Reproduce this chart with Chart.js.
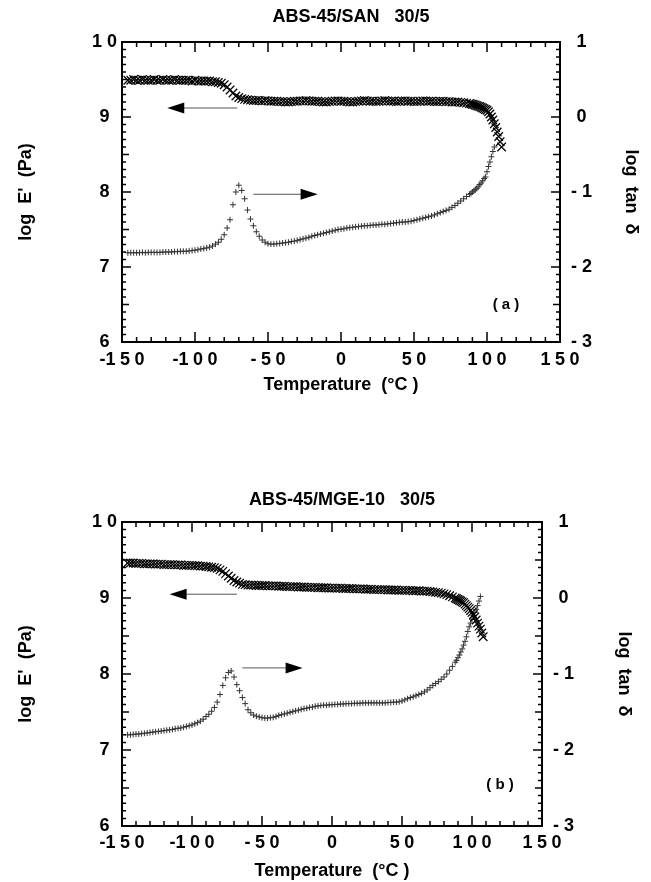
<!DOCTYPE html>
<html>
<head>
<meta charset="utf-8">
<script src="https://cdn.jsdelivr.net/npm/chart.js@4.4.1/dist/chart.umd.min.js"></script>
<style>
  html, body { margin: 0; padding: 0; background: #fff; }
  #wrap { position: relative; width: 651px; height: 882px; }
  canvas { position: absolute; left: 0; }
</style>
</head>
<body>
<div id="wrap">
  <canvas id="chartA" width="651" height="441" style="top:0"></canvas>
  <canvas id="chartB" width="651" height="441" style="top:441px"></canvas>
</div>
<script>
// temperatures (°C) of the measured points
const temps = [
  -146,-144,-142,-140,-138,-136,-134,-132,-130,-128,
  -126,-124,-122,-120,-118,-116,-114,-112,-110,-108,
  -106,-104,-102,-100,-98,-96,-94,-92,-90,-88,
  -86,-84,-82,-80,-78,-76,-74,-72,-70,-68,
  -66,-64,-62,-60,-58,-56,-54,-52,-50,-48,
  -46,-44,-42,-40,-38,-36,-34,-32,-30,-28,
  -26,-24,-22,-20,-18,-16,-14,-12,-10,-8,
  -6,-4,-2,0,2,4,6,8,10,12,
  14,16,18,20,22,24,26,28,30,32,
  34,36,38,40,42,44,46,48,50,52,
  54,56,58,60,62,64,66,68,70,72,
  74,76,78,80,82,84,86,88,
  89,90,91,92,93,94,95,96,97,98,
  99,100,101,102,103,104,105,106,107,108,
  109,110
];

// (a) ABS-45/SAN 30/5 : log E' (Pa), left axis
const logE_a = [
  9.49,9.49,9.50,9.49,9.49,9.50,9.49,9.49,9.49,9.50,
  9.49,9.49,9.50,9.49,9.49,9.49,9.50,9.49,9.49,9.49,
  9.49,9.49,9.48,9.49,9.48,9.48,9.48,9.48,9.48,9.47,
  9.47,9.46,9.45,9.43,9.40,9.36,9.32,9.28,9.26,9.245,
  9.235,9.23,9.225,9.22,9.22,9.22,9.215,9.22,9.215,9.21,
  9.21,9.21,9.205,9.205,9.20,9.20,9.205,9.21,9.21,9.215,
  9.215,9.22,9.215,9.21,9.21,9.21,9.205,9.20,9.20,9.205,
  9.21,9.215,9.215,9.21,9.21,9.205,9.20,9.20,9.205,9.21,
  9.215,9.22,9.215,9.21,9.21,9.205,9.21,9.215,9.22,9.215,
  9.21,9.21,9.205,9.21,9.215,9.215,9.21,9.21,9.205,9.205,
  9.21,9.215,9.215,9.21,9.21,9.205,9.205,9.21,9.21,9.205,
  9.205,9.20,9.20,9.20,9.195,9.19,9.185,9.18,
  9.175,9.17,9.165,9.16,9.15,9.145,9.14,9.13,9.12,9.11,
  9.10,9.09,9.07,9.04,9.00,8.96,8.91,8.86,8.80,8.74,
  8.67,8.60
];

// (a) log tan δ, right axis
const logTan_a = [
  -1.81,-1.81,-1.81,-1.81,-1.81,-1.805,-1.81,-1.805,-1.805,-1.805,
  -1.805,-1.805,-1.80,-1.80,-1.80,-1.80,-1.795,-1.795,-1.79,-1.79,
  -1.79,-1.785,-1.78,-1.775,-1.77,-1.76,-1.755,-1.745,-1.735,-1.72,
  -1.695,-1.67,-1.63,-1.57,-1.48,-1.37,-1.17,-1.00,-0.91,-0.98,
  -1.09,-1.24,-1.36,-1.45,-1.53,-1.59,-1.64,-1.67,-1.69,-1.695,
  -1.695,-1.69,-1.685,-1.68,-1.675,-1.67,-1.66,-1.655,-1.645,-1.635,
  -1.625,-1.615,-1.605,-1.59,-1.58,-1.57,-1.56,-1.55,-1.54,-1.53,
  -1.52,-1.51,-1.50,-1.495,-1.49,-1.48,-1.475,-1.47,-1.465,-1.46,
  -1.455,-1.45,-1.45,-1.445,-1.44,-1.44,-1.435,-1.43,-1.43,-1.425,
  -1.42,-1.415,-1.41,-1.405,-1.40,-1.40,-1.395,-1.39,-1.38,-1.37,
  -1.36,-1.35,-1.34,-1.33,-1.32,-1.305,-1.29,-1.275,-1.26,-1.245,
  -1.23,-1.205,-1.18,-1.15,-1.12,-1.09,-1.06,-1.03,
  -1.02,-1.00,-0.985,-0.97,-0.95,-0.93,-0.90,-0.88,-0.85,-0.82,
  -0.80,-0.73,-0.66,-0.60,-0.53,-0.46,-0.40,null,null,null,
  null,null
];

// (b) ABS-45/MGE-10 30/5 : log E' (Pa)
const logE_b = [
  9.46,9.46,9.46,9.455,9.455,9.455,9.45,9.45,9.45,9.45,
  9.445,9.445,9.445,9.44,9.44,9.44,9.44,9.435,9.435,9.435,
  9.43,9.43,9.43,9.43,9.425,9.425,9.42,9.42,9.415,9.41,
  9.405,9.40,9.39,9.37,9.35,9.32,9.29,9.26,9.23,9.21,
  9.195,9.18,9.175,9.17,9.17,9.17,9.165,9.165,9.165,9.165,
  9.16,9.16,9.16,9.16,9.155,9.155,9.155,9.15,9.15,9.15,
  9.15,9.145,9.145,9.145,9.14,9.14,9.14,9.14,9.135,9.135,
  9.135,9.135,9.13,9.13,9.13,9.13,9.13,9.125,9.125,9.125,
  9.125,9.12,9.12,9.12,9.12,9.115,9.115,9.115,9.11,9.11,
  9.11,9.11,9.11,9.105,9.105,9.105,9.105,9.10,9.10,9.10,
  9.10,9.10,9.095,9.095,9.095,9.09,9.09,9.09,9.085,9.08,
  9.075,9.07,9.065,9.055,9.045,9.03,9.015,9.0,
  8.99,8.98,8.97,8.96,8.95,8.94,8.92,8.90,8.88,8.86,
  8.835,8.81,8.78,8.75,8.71,8.67,8.63,8.59,8.54,8.49,
  null,null
];

// (b) log tan δ
const logTan_b = [
  -1.80,-1.80,-1.795,-1.79,-1.79,-1.785,-1.78,-1.775,-1.77,-1.765,
  -1.76,-1.755,-1.75,-1.745,-1.74,-1.735,-1.73,-1.72,-1.715,-1.71,
  -1.70,-1.69,-1.68,-1.67,-1.655,-1.64,-1.62,-1.595,-1.56,-1.53,
  -1.49,-1.44,-1.37,-1.27,-1.15,-1.05,-0.98,-0.96,-1.04,-1.14,
  -1.22,-1.31,-1.39,-1.47,-1.51,-1.54,-1.555,-1.565,-1.575,-1.58,
  -1.58,-1.575,-1.57,-1.56,-1.545,-1.535,-1.525,-1.515,-1.505,-1.495,
  -1.485,-1.475,-1.465,-1.455,-1.45,-1.44,-1.435,-1.425,-1.42,-1.415,
  -1.41,-1.41,-1.405,-1.405,-1.40,-1.40,-1.395,-1.395,-1.39,-1.39,
  -1.39,-1.385,-1.385,-1.385,-1.38,-1.38,-1.38,-1.38,-1.38,-1.38,
  -1.38,-1.38,-1.38,-1.375,-1.375,-1.37,-1.37,-1.365,-1.355,-1.34,
  -1.325,-1.31,-1.30,-1.285,-1.27,-1.255,-1.235,-1.21,-1.18,-1.15,
  -1.125,-1.10,-1.07,-1.04,-1.00,-0.95,-0.90,-0.845,
  -0.82,-0.785,-0.75,-0.71,-0.67,-0.62,-0.57,-0.51,-0.44,-0.38,
  -0.33,-0.28,-0.23,-0.19,-0.15,-0.10,-0.04,0.02,null,null,
  null,null
];

// tick labels (the figure spaces its digits)
const xTickText = ['-1\u20055\u20050', '-1\u20050\u20050', '-\u20055\u20050', '0', '5\u20050', '1\u20050\u20050', '1\u20055\u20050'];
const leftTickText = ['6', '7', '8', '9', '1 0'];
const rightTickText = ['- 3', '- 2', '- 1', '0', '1'];

// arrows: [fromT, toT, log E' level]
const arrowsA = [[-71, -119, 9.12], [-60, -16, 7.97]];
const arrowsB = [[-68, -116, 9.05], [-64, -21, 8.08]];

const FONT = "'Liberation Sans', Arial, sans-serif";

function points(xs, ys) {
  return xs.map((t, i) => ({ x: t, y: ys[i] })).filter(p => p.y !== null);
}

// frame, inward ticks, arrows, titles
const decor = {
  id: 'decor',
  afterDatasetsDraw(chart, args, o) {
    const { ctx, chartArea: a, scales } = chart;
    const x = scales.x, y = scales.y, y2 = scales.y2;
    ctx.save();
    ctx.strokeStyle = '#000';
    ctx.lineWidth = 1.5;
    ctx.beginPath();
    for (let i = -15; i <= 15; i++) {
      const px = x.getPixelForValue(i * 10);
      const len = i % 5 === 0 ? 10 : 5;
      ctx.moveTo(px, a.bottom); ctx.lineTo(px, a.bottom - len);
      ctx.moveTo(px, a.top); ctx.lineTo(px, a.top + len);
    }
    for (let i = 0; i <= 40; i++) {
      const len = i % 10 === 0 ? 9 : (i % 5 === 0 ? 7 : 4);
      const py = y.getPixelForValue(6 + i / 10);
      ctx.moveTo(a.left, py); ctx.lineTo(a.left + len, py);
      const py2 = y2.getPixelForValue(-3 + i / 10);
      ctx.moveTo(a.right, py2); ctx.lineTo(a.right - len, py2);
    }
    ctx.stroke();
    ctx.lineWidth = 2;
    ctx.strokeRect(a.left, a.top, a.right - a.left, a.bottom - a.top);

    // arrows
    o.arrows.forEach(([t0, t1, v]) => {
      const x0 = x.getPixelForValue(t0), x1 = x.getPixelForValue(t1);
      const py = y.getPixelForValue(v);
      const dir = x1 > x0 ? 1 : -1;
      ctx.strokeStyle = '#555';
      ctx.lineWidth = 1;
      ctx.beginPath();
      ctx.moveTo(x0, py); ctx.lineTo(x1 - dir * 14, py);
      ctx.stroke();
      ctx.fillStyle = '#000';
      ctx.beginPath();
      ctx.moveTo(x1, py);
      ctx.lineTo(x1 - dir * 17, py - 5.5);
      ctx.lineTo(x1 - dir * 17, py + 5.5);
      ctx.closePath();
      ctx.fill();
    });

    // chart title and panel label
    ctx.fillStyle = '#000';
    ctx.textAlign = 'center';
    ctx.textBaseline = 'middle';
    ctx.font = 'bold 18px ' + FONT;
    ctx.fillText(o.title, (a.left + a.right) / 2 + 10, a.top + o.titleDy);
    ctx.font = 'bold 15px ' + FONT;
    ctx.fillText(o.panel, x.getPixelForValue(o.panelAt[0]), y.getPixelForValue(o.panelAt[1]));
    ctx.restore();
  }
};

function makeChart(id, eVals, tanVals, L) {
  const tickFont = { family: FONT, size: 18, weight: 'bold' };
  new Chart(document.getElementById(id), {
    type: 'scatter',
    data: {
      datasets: [
        {
          label: "log E'",
          data: points(temps, eVals),
          yAxisID: 'y',
          pointStyle: 'crossRot',
          pointRadius: 6,
          borderColor: '#000',
          borderWidth: 1.2,
          showLine: false
        },
        {
          label: 'log tan δ',
          data: points(temps, tanVals),
          yAxisID: 'y2',
          pointStyle: 'cross',
          pointRadius: 3,
          borderColor: '#333',
          borderWidth: 1,
          showLine: false
        }
      ]
    },
    options: {
      responsive: false,
      animation: false,
      devicePixelRatio: 1,
      events: [],
      layout: { padding: { top: L.top, left: 0, right: 0, bottom: 0 } },
      scales: {
        x: {
          type: 'linear',
          min: -150, max: 150,
          grid: { display: false, drawTicks: false },
          border: { display: false },
          ticks: {
            stepSize: 50, color: '#000', font: tickFont, padding: L.xPad,
            maxRotation: 0, autoSkip: false,
            callback: (v, i) => xTickText[i]
          },
          title: {
            display: true, text: 'Temperature  (°C )', color: '#000',
            font: tickFont, padding: { top: 0, bottom: L.xTitlePad }
          },
          afterFit: s => { s.height = L.xHeight; }
        },
        y: {
          position: 'left',
          min: 6, max: 10,
          grid: { display: false, drawTicks: false },
          border: { display: false },
          ticks: {
            stepSize: 1, color: '#000', font: tickFont, padding: 5,
            crossAlign: 'center',
            callback: (v, i) => leftTickText[i]
          },
          title: {
            display: true, text: "log  E'  (Pa)", color: '#000',
            font: tickFont, padding: { top: 15, bottom: 0 }
          },
          afterFit: s => { s.width = 122; }
        },
        y2: {
          position: 'right',
          min: -3, max: 1,
          grid: { display: false, drawTicks: false },
          border: { display: false },
          ticks: {
            stepSize: 1, color: '#000', font: tickFont, padding: 11,
            crossAlign: 'center',
            callback: (v, i) => rightTickText[i]
          },
          title: {
            display: true, text: 'log  tan  δ', color: '#000',
            font: tickFont, padding: { top: L.rTitlePad, bottom: 0 }
          },
          afterFit: s => { s.width = L.rightWidth; }
        }
      },
      plugins: {
        legend: { display: false },
        tooltip: { enabled: false },
        decor: {
          arrows: L.arrows, title: L.title, titleDy: L.titleDy,
          panel: L.panel, panelAt: L.panelAt
        }
      }
    },
    plugins: [decor]
  });
}

makeChart('chartA', logE_a, logTan_a, {
  top: 42, xHeight: 99, xPad: 7, xTitlePad: 45, rightWidth: 91, rTitlePad: 9,
  arrows: arrowsA, title: 'ABS-45/SAN   30/5', titleDy: -25,
  panel: '( a )', panelAt: [113, 6.49]
});
makeChart('chartB', logE_b, logTan_b, {
  top: 81, xHeight: 56, xPad: 6, xTitlePad: 0, rightWidth: 109, rTitlePad: 16,
  arrows: arrowsB, title: 'ABS-45/MGE-10   30/5', titleDy: -22,
  panel: '( b )', panelAt: [120, 6.54]
});
</script>
</body>
</html>
